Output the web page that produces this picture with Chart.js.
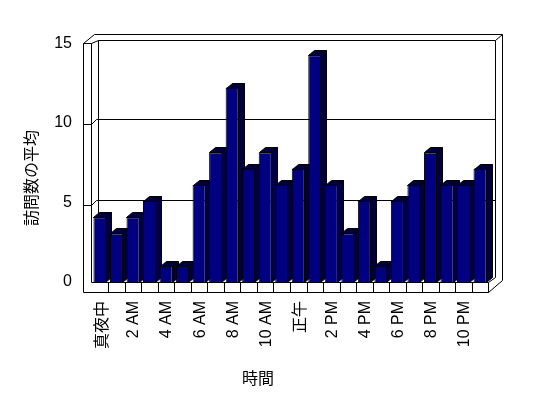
<!DOCTYPE html>
<html>
<head>
<meta charset="utf-8">
<script src="https://cdn.jsdelivr.net/npm/chart.js@4"></script>
<style>
  html, body { margin: 0; padding: 0; background: #fff; }
  #chart { display: block; }
</style>
</head>
<body>
<canvas id="chart" width="548" height="398"></canvas>
<script>
const hours = [
    '真夜中', '1 AM', '2 AM', '3 AM', '4 AM', '5 AM', '6 AM', '7 AM', '8 AM', '9 AM', '10 AM', '11 AM',
    '正午', '1 PM', '2 PM', '3 PM', '4 PM', '5 PM', '6 PM', '7 PM', '8 PM', '9 PM', '10 PM', '11 PM'
];
const avgVisits = [4, 3, 4, 5, 1, 1, 6, 8, 12, 7, 8, 6, 7, 14, 6, 3, 5, 1, 5, 6, 8, 6, 6, 7];
const yTicks = [0, 5, 10, 15];
const xTitle = '時間';
const yTitle = '訪問数の平均';

const FONT = '16px "Liberation Sans", Arial, sans-serif';
const CJK_FONT = '16px "Noto Sans CJK JP", sans-serif';
const DX = 6, DY = -5;

/* ==============================
   DITHER PATTERN FOR 3D FACES
================================= */

function makeDither(ctx) {
    const c = document.createElement('canvas');
    c.width = 2; c.height = 2;
    const p = c.getContext('2d');
    p.fillStyle = '#000000';
    p.fillRect(0, 0, 2, 2);
    p.fillStyle = '#000080';
    p.fillRect(0, 0, 1, 1);
    p.fillRect(1, 1, 1, 1);
    return ctx.createPattern(c, 'repeat');
}

function line(ctx, pts) {
    ctx.beginPath();
    ctx.moveTo(pts[0][0], pts[0][1]);
    for (let i = 1; i < pts.length; i++) ctx.lineTo(pts[i][0], pts[i][1]);
    ctx.stroke();
}

/* ==============================
   WALLS, FLOOR, GRID, DEPTH
================================= */

const frame3d = {
    id: 'frame3d',
    beforeDatasetsDraw(chart) {
        const ctx = chart.ctx;
        const a = chart.chartArea;
        const y = chart.scales.y;
        const x = chart.scales.x;
        const L = Math.round(a.left) - 1, R = Math.round(a.right), B = Math.round(a.bottom);
        const wallL = L + 7, wallR = R + 7, wallT = Math.round(a.top) + 1;
        const outL = L - 8;

        ctx.save();
        ctx.fillStyle = '#fff';
        ctx.fillRect(0, 0, chart.width, chart.height);
        ctx.strokeStyle = '#000';
        ctx.lineWidth = 1;
        ctx.translate(0.5, 0.5);

        // back wall grid, with the little step across the side wall
        yTicks.forEach(v => {
            if (v === 0 || v === yTicks[yTicks.length - 1]) return;
            const yb = Math.round(y.getPixelForValue(v) - 1.5);
            line(ctx, [[outL, yb + 5], [L, yb + 5], [L + 5, yb], [wallR, yb]]);
        });

        // back wall, inner and outer edges
        line(ctx, [[wallL, B], [wallL, wallT], [wallR, wallT], [wallR, B - 5]]);
        line(ctx, [[L + 3, wallT - 6], [wallR + 7, wallT - 6], [wallR + 7, B - 2]]);
        line(ctx, [[wallR, wallT], [wallR + 7, wallT - 6]]);

        // left wall
        line(ctx, [[outL, B + 10], [outL, wallT + 3], [L + 3, wallT - 6]]);
        line(ctx, [[outL, wallT + 3], [L, wallT + 3], [wallL, wallT]]);
        line(ctx, [[L, wallT + 3], [L, B]]);

        // floor with one cell per hour
        line(ctx, [[L, B], [R, B], [wallR, B - 5]]);
        line(ctx, [[outL, B + 10], [R, B + 10], [wallR + 7, B - 2]]);
        line(ctx, [[R, B], [R, B + 10]]);
        for (let i = 1; i < hours.length; i++) {
            const xb = Math.round((x.getPixelForValue(i - 1) + x.getPixelForValue(i)) / 2);
            line(ctx, [[xb, B], [xb, B + 10]]);
        }
        ctx.restore();

        // bar depth faces (top and right side)
        ctx.save();
        ctx.fillStyle = makeDither(ctx);
        ctx.strokeStyle = '#000';
        ctx.lineWidth = 1;
        ctx.translate(0.5, 0.5);
        chart.getDatasetMeta(0).data.forEach(el => {
            const p = el.getProps(['x', 'y', 'base', 'width'], true);
            const x0 = Math.round(p.x - p.width / 2), x1 = Math.round(p.x + p.width / 2) - 1;
            const yt = Math.round(p.y), yb = Math.round(p.base);
            ctx.beginPath();
            ctx.moveTo(x0, yt);
            ctx.lineTo(x0 + DX, yt + DY);
            ctx.lineTo(x1 + DX, yt + DY);
            ctx.lineTo(x1 + DX, yb + DY);
            ctx.lineTo(x1, yb);
            ctx.lineTo(x1, yt);
            ctx.closePath();
            ctx.fill();
            ctx.stroke();
            line(ctx, [[x1, yt], [x1 + DX, yt + DY]]);
        });
        ctx.restore();
    },

    afterDraw(chart) {
        const ctx = chart.ctx;
        const a = chart.chartArea;
        const x = chart.scales.x;
        ctx.save();
        ctx.fillStyle = '#000';

        // y tick labels on the front edge of the side wall
        ctx.font = FONT;
        ctx.textAlign = 'right';
        ctx.textBaseline = 'middle';
        const ty = { 0: 282, 5: 203, 10: 123, 15: 44 };
        yTicks.forEach(v => {
            ctx.fillText(String(v), 72, ty[v]);
        });

        // x tick labels, every other hour, rotated
        hours.forEach((h, i) => {
            if (i % 2) return;
            ctx.save();
            ctx.translate(x.getPixelForValue(i) + 1, a.bottom + 19);
            ctx.rotate(-Math.PI / 2);
            ctx.textAlign = 'right';
            ctx.textBaseline = 'middle';
            ctx.font = /[A-Z0-9]/.test(h) ? FONT : CJK_FONT;
            ctx.fillText(h, 0, 0);
            ctx.restore();
        });

        // axis titles
        ctx.font = CJK_FONT;
        ctx.textAlign = 'center';
        ctx.textBaseline = 'middle';
        ctx.fillText(xTitle, 258, 378);
        ctx.save();
        ctx.translate(31, 178);
        ctx.rotate(-Math.PI / 2);
        ctx.fillText(yTitle, 0, 0);
        ctx.restore();
        ctx.restore();
    }
};

/* ==============================
   CHART
================================= */

const ctx = document.getElementById('chart').getContext('2d');

new Chart(ctx, {
    type: 'bar',
    data: {
        labels: hours,
        datasets: [{
            data: avgVisits,
            backgroundColor: '#000080',
            borderColor: '#000000',
            borderWidth: 1,
            barPercentage: 0.79,
            categoryPercentage: 1
        }]
    },
    options: {
        responsive: false,
        animation: false,
        layout: {
            padding: { left: 91.7, right: 59.7, top: 39, bottom: 116 }
        },
        plugins: {
            legend: { display: false },
            tooltip: { enabled: false }
        },
        scales: {
            x: { display: false },
            y: { display: false, min: 0, max: 15 }
        }
    },
    plugins: [frame3d]
});
</script>
</body>
</html>
